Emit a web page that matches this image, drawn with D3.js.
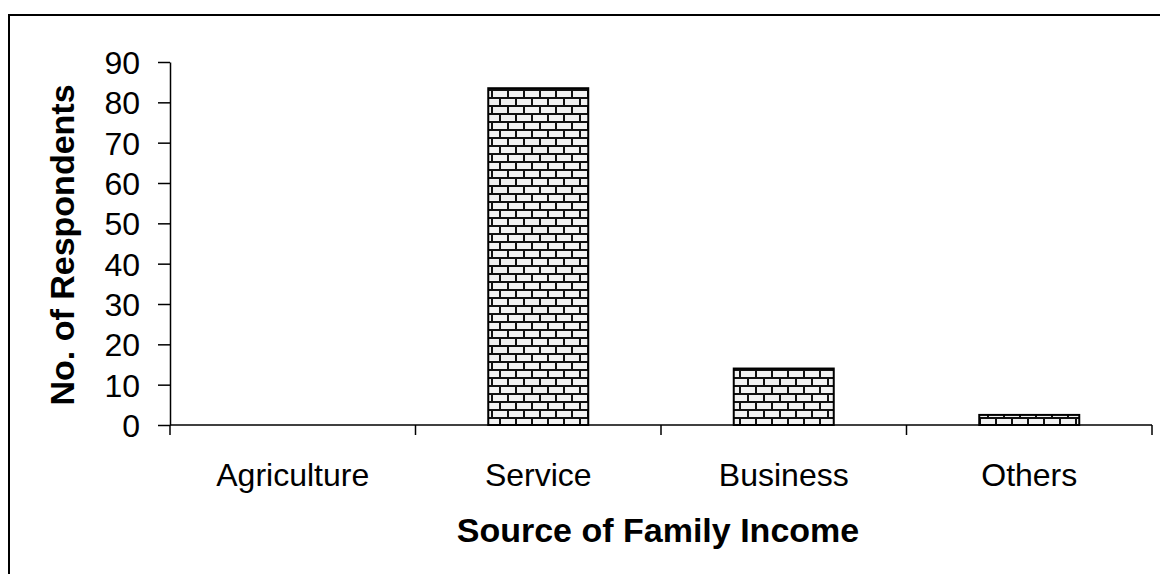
<!DOCTYPE html>
<html>
<head>
<meta charset="utf-8">
<script src="https://cdn.jsdelivr.net/npm/d3@7"></script>
<style>
  html, body { margin: 0; padding: 0; background: #fff; }
  svg { display: block; font-family: "Liberation Sans", Arial, sans-serif; }
</style>
</head>
<body>
<svg id="chart" width="1160" height="574"></svg>
<script>
// Source of family income of respondents
const categories = ["Agriculture", "Service", "Business", "Others"];
const respondents = [0, 83.5, 14, 2.5];
const yTicks = [0, 10, 20, 30, 40, 50, 60, 70, 80, 90];

const svg = d3.select("#chart");
const W = 1160, H = 574;
const plot = { left: 170, right: 1152, top: 62, bottom: 425 };
const FONT = "'Liberation Sans', Arial, sans-serif";

// Brick hatch fill
const defs = svg.append("defs");
const pat = defs.append("pattern")
  .attr("id", "brick")
  .attr("patternUnits", "userSpaceOnUse")
  .attr("width", 16).attr("height", 16)
  .attr("x", 0).attr("y", 1);
pat.append("rect").attr("width", 16).attr("height", 16).attr("fill", "#f2f2f2");
const bp = d3.path();
bp.moveTo(0, 1); bp.lineTo(16, 1);
bp.moveTo(0, 9); bp.lineTo(16, 9);
bp.moveTo(4, 0); bp.lineTo(4, 8);
bp.moveTo(12, 8); bp.lineTo(12, 16);
pat.append("path").attr("d", bp.toString())
  .attr("stroke", "#111").attr("stroke-width", 2).attr("fill", "none");

// Outer frame (top and left edges show in the canvas)
svg.append("path")
  .attr("d", `M9,${H + 2}V15H${W + 2}`)
  .attr("fill", "none").attr("stroke", "#000").attr("stroke-width", 2);

const x = d3.scaleBand().domain(categories).range([plot.left, plot.right]).paddingInner(0).paddingOuter(0);
const y = d3.scaleLinear().domain([0, 90]).range([plot.bottom, plot.top]);

const barW = 100;

// Bars
svg.append("g").selectAll("rect")
  .data(categories.map((c, i) => ({ c, v: respondents[i] })))
  .join("rect")
  .attr("x", d => x(d.c) + x.bandwidth() / 2 - barW / 2)
  .attr("y", d => y(d.v))
  .attr("width", barW)
  .attr("height", d => y(0) - y(d.v))
  .attr("fill", "url(#brick)")
  .attr("stroke", "#000")
  .attr("stroke-width", 2)
  .attr("display", d => d.v > 0 ? null : "none");

// Y axis
const yAxis = d3.axisLeft(y).tickValues(yTicks).tickSize(12).tickSizeOuter(0).tickPadding(18);
const gy = svg.append("g").attr("transform", `translate(${plot.left},0)`).call(yAxis);
gy.attr("font-size", null).attr("font-family", null);
gy.selectAll("text").attr("font-size", 32).attr("fill", "#000")
  .attr("font-family", FONT).attr("dy", "0.36em");
gy.selectAll("line, path").attr("stroke", "#000").attr("stroke-width", 1.5);

// X axis with ticks at category boundaries
const gx = svg.append("g").attr("transform", `translate(0,${plot.bottom})`);
gx.append("line").attr("x1", plot.left).attr("x2", plot.right)
  .attr("stroke", "#000").attr("stroke-width", 1.5);
const bounds = categories.map(c => x(c)).concat([x(categories[categories.length - 1]) + x.bandwidth()]);
gx.selectAll("line.tick").data(bounds).join("line")
  .attr("class", "tick")
  .attr("x1", d => d).attr("x2", d => d)
  .attr("y1", 0).attr("y2", 10)
  .attr("stroke", "#000").attr("stroke-width", 1.5);
gx.selectAll("text").data(categories).join("text")
  .attr("x", d => x(d) + x.bandwidth() / 2)
  .attr("y", 61)
  .attr("text-anchor", "middle")
  .attr("font-size", 32)
  .attr("font-family", FONT)
  .attr("fill", "#000")
  .text(d => d);

// Axis titles
svg.append("text")
  .attr("x", 658).attr("y", 542)
  .attr("text-anchor", "middle")
  .attr("font-size", 34).attr("font-weight", "bold")
  .attr("font-family", FONT)
  .text("Source of Family Income");

svg.append("text")
  .attr("transform", "translate(74,245) rotate(-90)")
  .attr("text-anchor", "middle")
  .attr("font-size", 34).attr("font-weight", "bold")
  .attr("font-family", FONT)
  .text("No. of Respondents");
</script>
</body>
</html>
